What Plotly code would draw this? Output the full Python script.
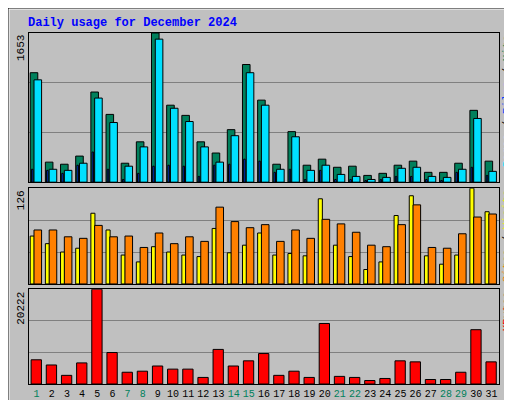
import plotly.graph_objects as go

days = list(range(1, 32))
day_labels = [str(d) for d in days]
weekend = [1, 7, 8, 14, 15, 21, 22, 28, 29]
hits = [1213,222,199,289,999,751,210,447,1653,853,740,447,323,582,1304,909,199,560,188,255,165,177,75,98,188,233,109,109,210,796,233]
files = [1134,143,131,210,932,661,177,391,1585,819,672,391,222,515,1213,853,143,503,131,188,86,64,30,53,154,165,64,53,143,706,120]
pages = [143,131,98,188,334,143,30,98,177,188,177,64,188,199,255,233,109,143,30,131,30,30,19,30,64,64,30,19,109,165,75]
sites = [63,53,42,47,93,71,38,29,49,42,38,36,73,41,51,67,38,40,37,112,51,36,19,29,90,116,37,26,38,126,95]
visits = [71,71,62,60,77,62,63,48,67,53,62,56,101,82,74,78,56,71,60,85,79,68,51,49,78,104,48,47,66,88,92]
kbytes = [5166,4059,1845,4502,20222,6716,2509,2731,3838,3174,3174,1402,7380,3838,4945,6495,1845,2731,1402,12916,1624,1402,738,1181,4945,4723,959,959,2509,11587,4723]
max_hits, max_sites, max_kb = 1653, 126, 20222

F = "Liberation Mono"
line = dict(color="black", width=1)
fig = go.Figure()
def bar(y, color, off, w, ax):
    fig.add_trace(go.Bar(x=days, y=y, marker=dict(color=color, line=line), offset=off, width=w,
                         xaxis="x" + ax, yaxis="y" + ax, hoverinfo="skip"))
bar(hits, "#00805C", -0.42, 0.5, "")
bar(files, "#00E0FF", -0.17, 0.5, "")
bar(pages, "#0040FF", -0.34, 0.1, "")
bar(sites, "#FFFF00", -0.42, 0.27, "2")
bar(visits, "#FF8000", -0.17, 0.5, "2")
bar(kbytes, "#FF0000", -0.36, 0.68, "3")

ticktext = [f"<span style='color:#00805C'>{d}</span>" if d in weekend else str(d) for d in days]
def xa(show, anchor):
    return dict(range=[0.5, 31.5], showgrid=False, zeroline=False, showline=True, mirror=True,
                linecolor="black", linewidth=1, anchor=anchor, automargin=False, tickangle=0,
                tickvals=days if show else [], ticktext=ticktext if show else [],
                tickfont=dict(family=F, size=10, color="black"), ticks="")
def ya(m, dom, anchor):
    return dict(range=[0, m * 1.0], domain=dom, tickvals=[m / 3, 2 * m / 3], showticklabels=False,
                gridcolor="#808080", gridwidth=1, zeroline=False, showline=True, mirror=True,
                linecolor="black", linewidth=1, anchor=anchor, automargin=False)
fig.update_layout(
    width=512, height=400, margin=dict(l=21, r=21, t=25, b=24, autoexpand=False),
    paper_bgcolor="#C0C0C0", plot_bgcolor="#C0C0C0", showlegend=False, barmode="overlay",
    xaxis=xa(False, "y"), xaxis2=xa(False, "y2"), xaxis3=xa(True, "y3"),
    yaxis=ya(max_hits, [0.575, 1.0], "x"), yaxis2=ya(max_sites, [0.285, 0.558], "x2"),
    yaxis3=ya(max_kb, [0.0, 0.27], "x3"),
)
def px(x): return (x - 21) / 470
def py(y): return (376 - y) / 351
ann = [
    dict(x=px(18), y=py(15), xref="paper", yref="paper", xanchor="left", yanchor="middle",
         text="<b>Daily usage for December 2024</b>", font=dict(family=F, size=12, color="#0000FF"), showarrow=False),
    dict(x=0, y=1.0, xref="paper", yref="paper", xanchor="right", yanchor="top", textangle=-90,
         text=str(max_hits), font=dict(family=F, size=11, color="black"), showarrow=False),
    dict(x=0, y=0.558, xref="paper", yref="paper", xanchor="right", yanchor="top", textangle=-90,
         text=str(max_sites), font=dict(family=F, size=11, color="black"), showarrow=False),
    dict(x=0, y=0.27, xref="paper", yref="paper", xanchor="right", yanchor="top", textangle=-90,
         text=str(max_kb), font=dict(family=F, size=11, color="black"), showarrow=False),
    dict(x=1, y=1.0, xref="paper", yref="paper", xanchor="left", yanchor="top", textangle=-90,
         text="<span style='color:#00E0FF'>Pages</span> / <span style='color:#0040FF'>Files</span> / <span style='color:#00805C'>Hits</span>",
         font=dict(family=F, size=11, color="black"), showarrow=False),
    dict(x=1, y=0.558, xref="paper", yref="paper", xanchor="left", yanchor="top", textangle=-90,
         text="<span style='color:#FF8000'>Sites</span> / <span style='color:#FFFF00'>Visits</span>",
         font=dict(family=F, size=11, color="black"), showarrow=False),
    dict(x=1, y=0.27, xref="paper", yref="paper", xanchor="left", yanchor="top", textangle=-90,
         text="KBytes", font=dict(family=F, size=11, color="#FF0000"), showarrow=False),
]
fig.update_layout(annotations=ann)
shapes = [
    dict(type="line", x0=px(0.5), x1=px(511), y0=py(0.5), y1=py(0.5), line=dict(color="white", width=2)),
    dict(type="line", x0=px(0.5), x1=px(0.5), y0=py(0), y1=py(399), line=dict(color="white", width=2)),
    dict(type="line", x0=px(2), x1=px(510), y0=py(397.5), y1=py(397.5), line=dict(color="#808080", width=3)),
    dict(type="line", x0=px(509.5), x1=px(509.5), y0=py(2), y1=py(398), line=dict(color="#808080", width=3)),
    dict(type="rect", x0=px(0), x1=px(511.5), y0=py(0), y1=py(399.5), line=dict(color="black", width=1)),
]
for s in shapes:
    s.update(xref="paper", yref="paper")
fig.update_layout(shapes=shapes)
fig.write_html("out.html")
